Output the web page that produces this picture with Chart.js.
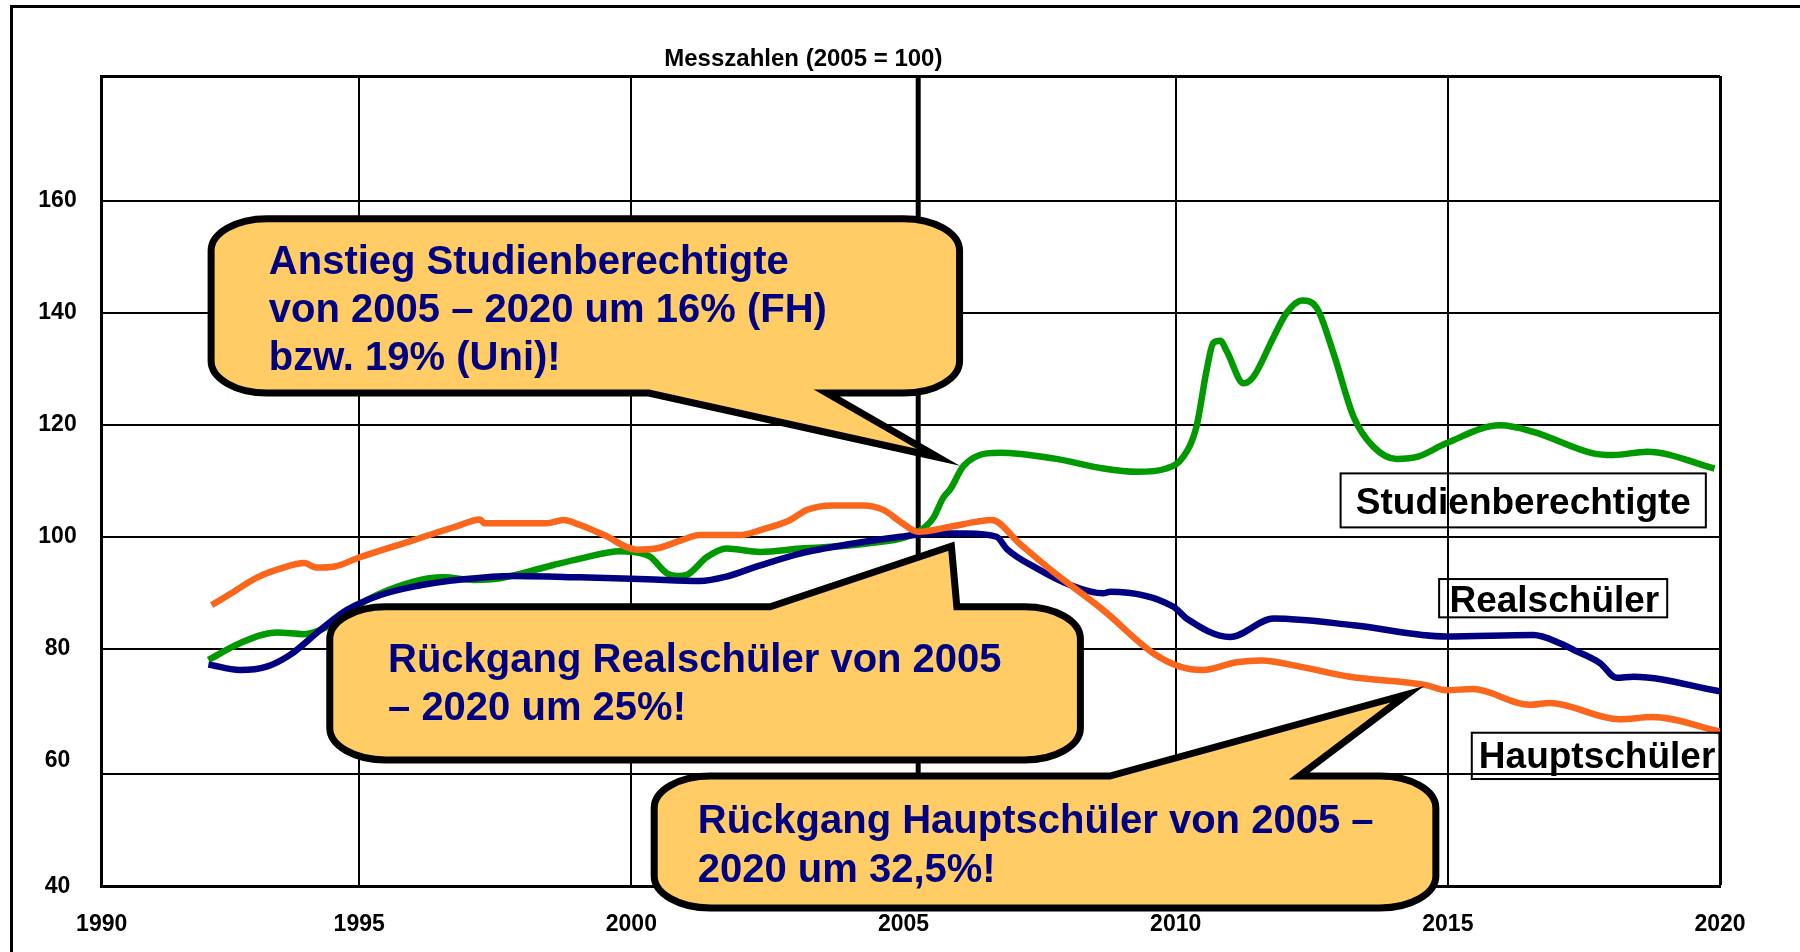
<!DOCTYPE html>
<html><head><meta charset="utf-8">
<script src="https://cdn.jsdelivr.net/npm/chart.js@4/dist/chart.umd.min.js"></script>
<style>
html,body{margin:0;padding:0;background:#fff;}
#wrap{position:relative;width:1800px;height:952px;overflow:hidden;background:#fff;}
#frame{position:absolute;left:10px;top:5px;right:-5px;bottom:-5px;border-left:3px solid #000;border-top:3px solid #000;}
canvas{position:absolute;left:0;top:0;}
</style></head><body>
<div id="wrap"><div id="frame"></div><canvas id="c" width="1800" height="952"></canvas></div>
<script>
// ---------- data ----------
const xTickYears  = [1990, 1995, 2000, 2005, 2010, 2015, 2020];
const xTickLabels = ['1990', '1995', '2000', '2005', '2010', '2015', '2020'];
const yTickValues = [40, 60, 80, 100, 120, 140, 160];
const yTickLabels = ['40', '60', '80', '100', '120', '140', '160'];

// Hauptschüler (orange)
const hsYears  = [1992.29, 1992.65, 1993.12, 1993.55, 1994.0, 1994.2, 1994.55, 1995.0, 1996.0, 1996.8, 1997.22, 1997.3, 1997.9, 1998.45, 1998.75, 1999.06, 1999.5, 2000.1, 2000.45, 2000.9, 2001.26, 2002.0, 2002.37, 2002.92, 2003.22, 2003.71, 2004.26, 2004.63, 2004.94, 2005.27, 2005.86, 2006.35, 2006.62, 2007.14, 2007.75, 2008.67, 2009.59, 2010.08, 2010.5, 2011.12, 2011.58, 2012.28, 2013.2, 2014.6, 2014.97, 2015.46, 2016.5, 2016.87, 2018.15, 2018.76, 2020.0];
const hsValues = [87.8, 89.9, 92.7, 94.3, 95.3, 94.5, 94.7, 96.3, 99.4, 101.9, 103.1, 102.4, 102.4, 102.4, 103.0, 102.1, 100.3, 97.7, 97.9, 99.3, 100.3, 100.3, 101.2, 103.0, 104.8, 105.6, 105.6, 104.8, 102.7, 100.9, 101.8, 102.7, 103.0, 98.7, 93.75, 86.9, 79.2, 76.8, 76.2, 77.6, 77.9, 76.8, 75.0, 73.5, 72.6, 72.8, 70.0, 70.3, 67.4, 67.8, 65.2];

// Studienberechtigte (green)
const sbYears  = [1992.23, 1992.81, 1993.49, 1993.98, 1994.41, 1995.14, 1996.0, 1996.55, 1997.1, 1997.59, 1998.45, 1999.06, 1999.8, 2000.16, 2000.35, 2000.65, 2000.85, 2001.02, 2001.39, 2001.75, 2002.37, 2003.1, 2004.33, 2005.27, 2005.55, 2005.73, 2005.86, 2006.1, 2006.53, 2006.77, 2007.75, 2008.67, 2009.28, 2009.83, 2010.14, 2010.38, 2010.57, 2010.69, 2010.82, 2010.94, 2011.25, 2011.43, 2011.8, 2012.04, 2012.32, 2012.59, 2012.9, 2013.27, 2013.63, 2014.06, 2014.45, 2014.97, 2015.96, 2016.57, 2017.67, 2018.04, 2018.66, 2019.9];
const sbValues = [78.0, 81.0, 82.9, 82.6, 83.9, 88.7, 92.0, 92.75, 92.3, 92.6, 94.65, 96.1, 97.4, 97.1, 96.4, 93.5, 93.0, 93.2, 96.4, 97.9, 97.3, 97.9, 98.8, 100.9, 103.4, 107.0, 108.5, 112.6, 114.9, 115.0, 114.0, 112.2, 111.6, 112.2, 114.3, 119.6, 129.8, 134.6, 135.0, 133.1, 127.4, 128.6, 135.7, 140.0, 142.2, 140.9, 132.75, 121.4, 116.1, 113.9, 114.3, 116.7, 119.9, 118.75, 114.9, 114.6, 115.2, 112.2];

// Realschüler (blue)
const rsYears  = [1992.23, 1992.81, 1993.3, 1993.73, 1994.28, 1994.77, 1995.39, 1996.0, 1996.92, 1997.84, 1999.06, 2000.28, 2001.26, 2001.75, 2002.37, 2003.1, 2004.02, 2004.94, 2005.55, 2006.16, 2006.71, 2006.9, 2007.45, 2008.06, 2008.67, 2008.8, 2009.96, 2010.2, 2011.0, 2011.8, 2013.27, 2014.97, 2016.57, 2017.06, 2017.31, 2017.8, 2018.1, 2018.41, 2020.0];
const rsValues = [77.2, 76.2, 76.8, 78.9, 83.3, 86.9, 89.6, 91.1, 92.4, 93.0, 92.75, 92.4, 92.1, 92.9, 94.9, 97.0, 98.7, 100.0, 100.6, 100.6, 100.0, 97.8, 94.35, 91.4, 89.9, 90.2, 87.5, 85.4, 82.1, 85.4, 84.2, 82.2, 82.45, 81.0, 79.8, 77.4, 74.8, 75.0, 72.4];

const seriesNames = ['Hauptschüler', 'Realschüler', 'Studienberechtigte'];
const titleText = 'Messzahlen (2005 = 100)';

// ---------- layout / style (kept apart from data) ----------
const FONT = '"Liberation Sans", Arial, sans-serif';
const ORANGE = '#F9661C', BLUE = '#000080', GREEN = '#009900';
const X_MIN = 1990.27, X_MAX = 2020;
const Y_MIN = 37.5, Y_MAX = 182.3;
const GRID_60 = 57.6;        // the picture's "60" grid line sits a bit below its label
const MARKER_YEAR = 2005.27; // thick vertical reference line

const seriesLabels = [
  { text: seriesNames[2], box: [2013.03, 111.32, 2019.74, 101.68], at: [2013.31, 104.05] },
  { text: seriesNames[1], box: [2014.84, 92.45, 2019.03, 85.61],  at: [2015.03, 86.61] },
  { text: seriesNames[0], box: [2015.44, 65.0, 2019.99, 56.73],   at: [2015.57, 58.64] }
];

const callouts = [
  { lines: ['Anstieg Studienberechtigte', 'von 2005 – 2020 um 16% (FH)', 'bzw. 19% (Uni)!'],
    box: [1992.28, 156.82, 2006.03, 125.66],
    tail: { side: 'bottom', a: 2000.32, b: 2003.59, tip: [2005.64, 114.2] },
    at: [1993.34, 146.9], gap: 47.7 },
  { lines: ['Rückgang Realschüler von 2005', '– 2020 um 25%!'],
    box: [1994.46, 87.5, 2008.25, 60.13],
    tail: { side: 'top', a: 2002.55, b: 2005.98, tip: [2005.88, 98.3] },
    at: [1995.53, 75.9], gap: 48.3 },
  { lines: ['Rückgang Hauptschüler von 2005 –', '2020 um 32,5%!'],
    box: [2000.42, 57.27, 2014.78, 33.7],
    tail: { side: 'top', a: 2008.79, b: 2012.27, tip: [2014.26, 71.9] },
    at: [2001.22, 47.04], gap: 48.4 }
];
const titlePos = [2003.16, 184.05];

function calloutPath(ctx, l, t, r, b, rx, ry, tail) {
  const k = 0.5523;
  ctx.beginPath();
  ctx.moveTo(l + rx, t);
  if (tail.side === 'top') { ctx.lineTo(tail.a, t); ctx.lineTo(tail.tx, tail.ty); ctx.lineTo(tail.b, t); }
  ctx.lineTo(r - rx, t);
  ctx.bezierCurveTo(r - rx + rx * k, t, r, t + ry - ry * k, r, t + ry);
  ctx.lineTo(r, b - ry);
  ctx.bezierCurveTo(r, b - ry + ry * k, r - rx + rx * k, b, r - rx, b);
  if (tail.side === 'bottom') { ctx.lineTo(tail.b, b); ctx.lineTo(tail.tx, tail.ty); ctx.lineTo(tail.a, b); }
  ctx.lineTo(l + rx, b);
  ctx.bezierCurveTo(l + rx - rx * k, b, l, b - ry + ry * k, l, b - ry);
  ctx.lineTo(l, t + ry);
  ctx.bezierCurveTo(l, t + ry - ry * k, l + rx - rx * k, t, l + rx, t);
  ctx.closePath();
}

const annotPlugin = {
  id: 'annot',
  beforeDatasetsDraw(chart) {
    const { ctx, chartArea: a, scales: { x } } = chart;
    const X = x.getPixelForValue(MARKER_YEAR);
    ctx.save();
    ctx.strokeStyle = '#000'; ctx.lineWidth = 5;
    ctx.beginPath(); ctx.moveTo(X, a.top); ctx.lineTo(X, a.bottom); ctx.stroke();
    ctx.restore();
  },
  afterDatasetsDraw(chart) {
    const { ctx, scales: { x, y } } = chart;
    const X = v => x.getPixelForValue(v), Y = v => y.getPixelForValue(v);
    ctx.save();
    // title
    ctx.font = `bold 24px ${FONT}`; ctx.fillStyle = '#000';
    ctx.textAlign = 'center'; ctx.textBaseline = 'alphabetic';
    ctx.fillText(titleText, X(titlePos[0]), Y(titlePos[1]));
    // series name boxes
    ctx.textAlign = 'left';
    ctx.font = `bold 37px ${FONT}`;
    seriesLabels.forEach(s => {
      const [x1, y1, x2, y2] = s.box;
      ctx.strokeStyle = '#000'; ctx.lineWidth = 2;
      ctx.strokeRect(X(x1), Y(y1), X(x2) - X(x1), Y(y2) - Y(y1));
      ctx.fillStyle = '#000';
      ctx.fillText(s.text, X(s.at[0]), Y(s.at[1]));
    });
    // callouts
    callouts.forEach(c => {
      const [x1, y1, x2, y2] = c.box;
      const tail = { side: c.tail.side, a: X(c.tail.a), b: X(c.tail.b), tx: X(c.tail.tip[0]), ty: Y(c.tail.tip[1]) };
      calloutPath(ctx, X(x1), Y(y1), X(x2), Y(y2), 56, 32, tail);
      ctx.fillStyle = '#FFCC66'; ctx.fill();
      ctx.lineJoin = 'miter'; ctx.miterLimit = 10;
      ctx.strokeStyle = '#000'; ctx.lineWidth = 7; ctx.stroke();
      ctx.fillStyle = '#000080';
      ctx.font = `bold 40px ${FONT}`;
      c.lines.forEach((ln, i) => ctx.fillText(ln, X(c.at[0]), Y(c.at[1]) + i * c.gap));
    });
    ctx.restore();
  }
};

const mk = (xs, vs) => xs.map((x, i) => ({ x, y: vs[i] }));

new Chart(document.getElementById('c'), {
  type: 'line',
  data: {
    datasets: [
      { label: seriesNames[0], data: mk(hsYears, hsValues), borderColor: ORANGE },
      { label: seriesNames[1], data: mk(rsYears, rsValues), borderColor: BLUE },
      { label: seriesNames[2], data: mk(sbYears, sbValues), borderColor: GREEN }
    ]
  },
  options: {
    responsive: false, animation: false, devicePixelRatio: 1,
    layout: { padding: { left: 12, top: 76, right: 80, bottom: 0 } },
    plugins: { legend: { display: false }, tooltip: { enabled: false }, title: { display: false } },
    elements: {
      point: { radius: 0, hoverRadius: 0 },
      line: { borderWidth: 6.5, cubicInterpolationMode: 'monotone', borderJoinStyle: 'round', borderCapStyle: 'butt', fill: false }
    },
    scales: {
      x: {
        type: 'linear', min: X_MIN, max: X_MAX,
        afterBuildTicks(s) { s.ticks = xTickYears.map(v => ({ value: Math.max(v, X_MIN) })); },
        afterFit(s) { s.height = 65.3; },
        ticks: { autoSkip: false, maxRotation: 0, padding: 24, color: '#000',
          font: { family: FONT, size: 23, weight: 'bold' },
          callback: (v, i) => xTickLabels[i] },
        grid: { drawTicks: false,
          color: c => (c.tick && c.tick.value === 2005) ? 'rgba(0,0,0,0)' : '#000',
          lineWidth: c => (c.tick && c.tick.value === X_MAX) ? 3 : 2 },
        border: { display: true, color: '#000', width: 3 }
      },
      y: {
        type: 'linear', min: Y_MIN, max: Y_MAX,
        afterBuildTicks(s) { s.ticks = [Y_MIN, GRID_60, ...yTickValues.slice(1), Y_MAX].map(v => ({ value: v })); },
        afterFit(s) { s.width = 89.7; },
        ticks: { autoSkip: false, padding: 25, crossAlign: 'center', color: '#000',
          font: { family: FONT, size: 23, weight: 'bold' },
          callback: v => v === Y_MIN ? yTickLabels[0] : (yTickValues.indexOf(v) > 0 ? yTickLabels[yTickValues.indexOf(v)] : '') },
        grid: { drawTicks: false,
          color: c => (c.tick && c.tick.value === 60) ? 'rgba(0,0,0,0)' : '#000',
          lineWidth: c => (c.tick && c.tick.value === Y_MAX) ? 3 : 2 },
        border: { display: true, color: '#000', width: 3 }
      }
    }
  },
  plugins: [annotPlugin]
});
</script></body></html>
